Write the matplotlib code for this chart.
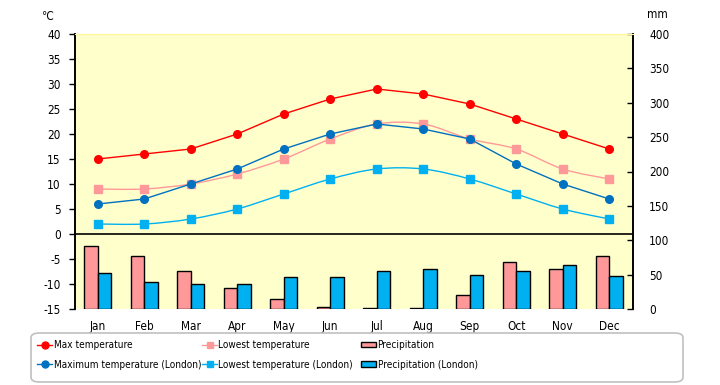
import matplotlib
matplotlib.use("Agg")
import matplotlib.pyplot as plt
from matplotlib import font_manager
from matplotlib.path import Path
from matplotlib.patches import PathPatch, FancyBboxPatch, Patch
from matplotlib.lines import Line2D

fl = font_manager.fontManager.ttflist
names = {f.name for f in fl}
if "Liberation Sans Narrow" in names:
    FAM, STRETCH, LEGFS = "Liberation Sans Narrow", "normal", 8.5
elif any(f.name == "DejaVu Sans" and str(f.stretch) in ("condensed", "semi-condensed") for f in fl):
    FAM, STRETCH, LEGFS = "DejaVu Sans", "condensed", 7.2
else:
    FAM, STRETCH, LEGFS = "Liberation Sans", "normal", 6.8

plt.rcParams['font.family'] = [FAM, 'DejaVu Sans']
plt.rcParams['font.stretch'] = STRETCH
plt.rcParams['font.size'] = 8

months = ["Jan", "Feb", "Mar", "Apr", "May", "Jun", "Jul", "Aug", "Sep", "Oct", "Nov", "Dec"]
max_temp = [15, 16, 17, 20, 24, 27, 29, 28, 26, 23, 20, 17]
low_temp = [9, 9, 10, 12, 15, 19, 22, 22, 19, 17, 13, 11]
max_temp_london = [6, 7, 10, 13, 17, 20, 22, 21, 19, 14, 10, 7]
low_temp_london = [2, 2, 3, 5, 8, 11, 13, 13, 11, 8, 5, 3]
precip = [91, 77, 56, 30, 14, 2.5, 1, 1, 20, 68, 58, 77]
precip_london = [52, 39, 36, 37, 46, 46, 55, 58, 49, 56, 64, 48]

RED = "#FF0000"
PINK = "#FF9999"
DBLUE = "#0070C0"
LBLUE = "#00B0F0"
BG = "#FFFFCC"

W, H = 720, 385
fig = plt.figure(figsize=(W / 100, H / 100), dpi=100)
L, R, T, B = 74.5, 632.5, 34, 309
ax = fig.add_axes([L / W, 1 - B / H, (R - L) / W, (B - T) / H])
ax2 = ax.twinx()

x = list(range(len(months)))

bw = 0.29
ax2.bar([i - bw / 2 for i in x], precip, width=bw, color=PINK, edgecolor="black", linewidth=1.0)
ax2.bar([i + bw / 2 for i in x], precip_london, width=bw, color=LBLUE, edgecolor="black", linewidth=1.0)
ax2.set_ylim(0, 400)
ax2.set_yticks(range(0, 401, 50))
ax2.set_zorder(0)
ax2.patch.set_visible(True)
ax2.patch.set_facecolor(BG)
ax.set_zorder(1)
ax.patch.set_visible(False)


def smooth_path(xs, ys):
    pts = list(zip(xs, ys))
    verts = [pts[0]]
    codes = [Path.MOVETO]
    n = len(pts)
    for i in range(n - 1):
        p0 = pts[i - 1] if i > 0 else pts[i]
        p1 = pts[i]
        p2 = pts[i + 1]
        p3 = pts[i + 2] if i + 2 < n else pts[i + 1]
        c1 = (p1[0] + (p2[0] - p0[0]) / 6, p1[1] + (p2[1] - p0[1]) / 6)
        c2 = (p2[0] - (p3[0] - p1[0]) / 6, p2[1] - (p3[1] - p1[1]) / 6)
        verts += [c1, c2, p2]
        codes += [Path.CURVE4] * 3
    return Path(verts, codes)


ax.axhline(0, color="black", linewidth=1.2, zorder=1)

MS = 5.5
ax.plot(x, max_temp, color=RED, lw=1.0, marker="o", ms=MS, mec=RED, mfc=RED, zorder=5)
ax.plot(x, max_temp_london, color=DBLUE, lw=1.0, marker="o", ms=MS, mec=DBLUE, mfc=DBLUE, zorder=4)
ax.add_patch(PathPatch(smooth_path(x, low_temp), fill=False, edgecolor=PINK, lw=1.0, zorder=3))
ax.plot(x, low_temp, ls="none", marker="s", ms=MS, mec=PINK, mfc=PINK, zorder=3)
ax.add_patch(PathPatch(smooth_path(x, low_temp_london), fill=False, edgecolor=LBLUE, lw=1.0, zorder=3))
ax.plot(x, low_temp_london, ls="none", marker="s", ms=MS, mec=LBLUE, mfc=LBLUE, zorder=3)

ax.set_xlim(-0.5, len(months) - 0.5)
ax.set_ylim(-15, 40)
ax.set_yticks(range(-15, 41, 5))
ax.set_yticklabels([str(v) for v in range(-15, 41, 5)])
ax.set_xticks(x)
ax.set_xticklabels(months)
ax.tick_params(axis="x", length=0, pad=8, labelsize=8.5)
ax.tick_params(axis="y", direction="out", length=4, width=1, pad=6, labelsize=8.5)
ax2.tick_params(axis="y", direction="in", length=4, width=1, pad=12, labelsize=8.5)
ax2.tick_params(axis="x", length=0)

for a in (ax, ax2):
    a.spines["bottom"].set_visible(False)
    a.spines["top"].set_color("#FFF799")
    a.spines["left"].set_linewidth(1.2)
    a.spines["right"].set_linewidth(1.2)

fig.text(48 / W, 1 - 16 / H, "℃", ha="center", va="center", fontsize=8.5,
         family=["DejaVu Sans"])
fig.text(657 / W, 1 - 15 / H, "mm", ha="center", va="center", fontsize=8.5)

frame = FancyBboxPatch((31 / W, 1 - 382 / H), (683 - 31) / W, (382 - 333) / H,
                       boxstyle="round,pad=0,rounding_size=0.012",
                       transform=fig.transFigure, facecolor="white",
                       edgecolor="#C0C0C0", linewidth=1.2)
fig.patches.append(frame)

h_max = Line2D([], [], color=RED, lw=1.0, marker="o", ms=5, mfc=RED, mec=RED)
h_maxl = Line2D([], [], color=DBLUE, lw=1.0, marker="o", ms=5, mfc=DBLUE, mec=DBLUE)
h_low = Line2D([], [], color=PINK, lw=1.0, marker="s", ms=5, mfc=PINK, mec=PINK)
h_lowl = Line2D([], [], color=LBLUE, lw=1.0, marker="s", ms=5, mfc=LBLUE, mec=LBLUE)
h_p = Patch(facecolor=PINK, edgecolor="black", linewidth=1.0)
h_pl = Patch(facecolor=LBLUE, edgecolor="black", linewidth=1.0)

cols = [
    ([h_max, h_maxl], ["Max temperature", "Maximum temperature (London)"], 37),
    ([h_low, h_lowl], ["Lowest temperature", "Lowest temperature (London)"], 202),
    ([h_p, h_pl], ["Precipitation", "Precipitation (London)"], 361),
]
for handles, labels, xpx in cols:
    fig.legend(handles, labels, loc="upper left",
               bbox_to_anchor=(xpx / W, 1 - 340 / H),
               frameon=False, fontsize=LEGFS, handlelength=1.5,
               handletextpad=0.15, labelspacing=0.95, borderpad=0,
               borderaxespad=0, handleheight=0.5)

fig.savefig("out.png", dpi=100)
